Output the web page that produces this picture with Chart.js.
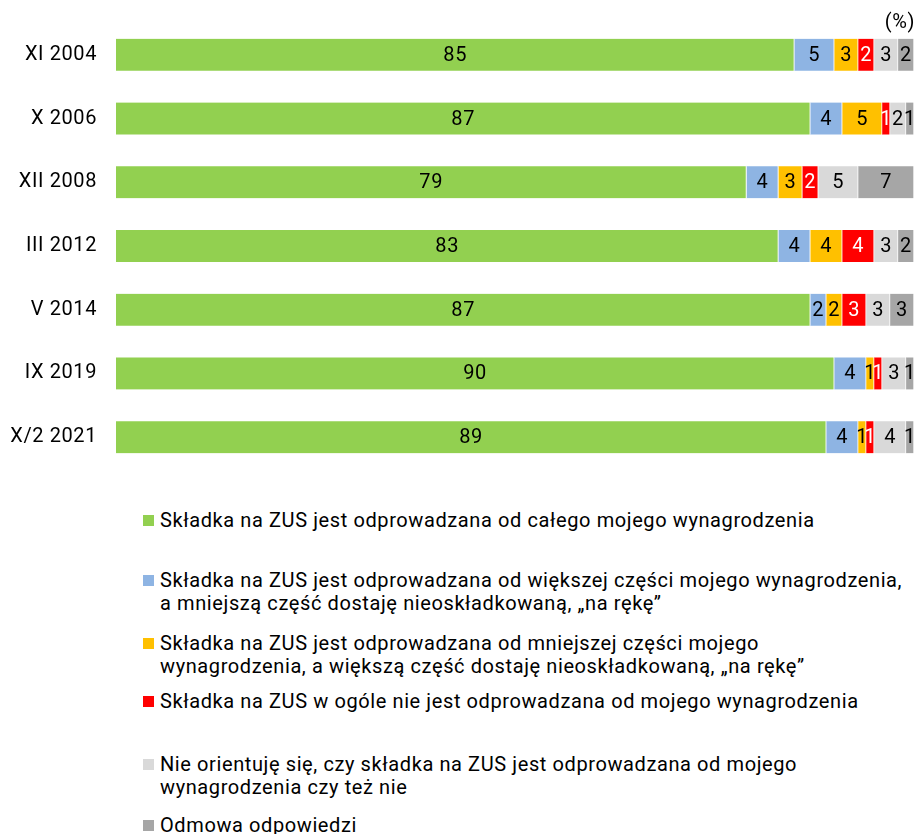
<!DOCTYPE html>
<html>
<head>
<meta charset="utf-8">
<script src="https://cdn.jsdelivr.net/npm/chart.js@4"></script>
<style>
  body { margin: 0; background: #fff; font-family: Roboto, sans-serif; }
  #wrap { position: relative; width: 915px; height: 834px; }
  #box { position: absolute; left: 0; top: 0; width: 915px; height: 480px; }
  #pct { position: absolute; right: 0; top: 10px; font-size: 20px; line-height: 23px; letter-spacing: 0.6px; color: #000; }
  .leg { position: absolute; left: 143px; font-size: 20px; line-height: 23px; letter-spacing: 0.6px; color: #000; padding-left: 17px; white-space: nowrap; }
  .leg i { position: absolute; left: 0; top: 6px; width: 11px; height: 11px; }
</style>
</head>
<body>
<div id="wrap">
  <div id="box"><canvas id="chart"></canvas></div>
  <div id="pct">(%)</div>
  <div id="legend"></div>
</div>
<script>
const labels = ["XI 2004", "X 2006", "XII 2008", "III 2012", "V 2014", "IX 2019", "X/2 2021"];
const seriesNames = [
  "Składka na ZUS jest odprowadzana od całego mojego wynagrodzenia",
  "Składka na ZUS jest odprowadzana od większej części mojego wynagrodzenia,<br>a mniejszą część dostaję nieoskładkowaną, „na rękę”",
  "Składka na ZUS jest odprowadzana od mniejszej części mojego<br>wynagrodzenia, a większą część dostaję nieoskładkowaną,  „na rękę”",
  "Składka na ZUS w ogóle nie jest odprowadzana od mojego wynagrodzenia",
  "Nie orientuję się, czy składka na ZUS jest odprowadzana od mojego<br>wynagrodzenia czy też nie",
  "Odmowa odpowiedzi"
];
const whole = [85, 87, 79, 83, 87, 90, 89];
const larger = [5, 4, 4, 4, 2, 4, 4];
const smaller = [3, 5, 3, 4, 2, 1, 1];
const none = [2, 1, 2, 4, 3, 1, 1];
const dontKnow = [3, 2, 5, 3, 3, 3, 4];
const refused = [2, 1, 7, 2, 3, 1, 1];

const colors = ["#92D050", "#8EB4E3", "#FFC000", "#FF0000", "#D9D9D9", "#A6A6A6"];
const textColors = ["#000", "#000", "#000", "#fff", "#000", "#000"];
const legendTop = [509, 569, 632, 690, 753, 814];

const values = [whole, larger, smaller, none, dontKnow, refused];

// legend
const legend = document.getElementById("legend");
seriesNames.forEach((name, i) => {
  const d = document.createElement("div");
  d.className = "leg";
  d.style.top = legendTop[i] + "px";
  d.innerHTML = '<i style="background:' + colors[i] + '"></i>' + name;
  legend.appendChild(d);
});

const spacing = {
  id: "spacing",
  beforeDraw(chart) { chart.ctx.letterSpacing = "0.6px"; }
};

const barLabels = {
  id: "barLabels",
  afterDatasetsDraw(chart) {
    const ctx = chart.ctx;
    ctx.save();
    ctx.font = "20px Roboto";
    ctx.letterSpacing = "0.6px";
    ctx.textAlign = "center";
    ctx.textBaseline = "middle";
    chart.data.datasets.forEach((ds, i) => {
      chart.getDatasetMeta(i).data.forEach((bar, j) => {
        const p = bar.getProps(["x", "y", "base"], true);
        ctx.fillStyle = textColors[i];
        ctx.fillText(ds.data[j], (p.x + p.base) / 2, p.y + 1);
      });
    });
    ctx.restore();
  }
};

new Chart(document.getElementById("chart"), {
  type: "bar",
  data: {
    labels: labels,
    datasets: values.map((v, i) => ({
      label: seriesNames[i],
      data: v,
      backgroundColor: colors[i],
      borderColor: "#fff",
      borderWidth: { right: 1 },
      borderSkipped: false,
      barThickness: 32,
    })),
  },
  options: {
    indexAxis: "y",
    responsive: true,
    maintainAspectRatio: false,
    animation: false,
    layout: { padding: { top: 23, bottom: 11, left: 0, right: 1 } },
    plugins: {
      legend: { display: false },
      tooltip: { enabled: false },
    },
    scales: {
      x: { stacked: true, min: 0, max: 100, display: false },
      y: {
        stacked: true,
        border: { display: false },
        grid: { display: false, drawTicks: false },
        ticks: { color: "#000", font: { family: "Roboto", size: 20 }, padding: 19 },
        afterFit(scale) {
          scale.width = 116;
          scale.paddingTop = 0;
          scale.paddingBottom = 0;
        },
      },
    },
  },
  plugins: [spacing, barLabels],
});
</script>
</body>
</html>
